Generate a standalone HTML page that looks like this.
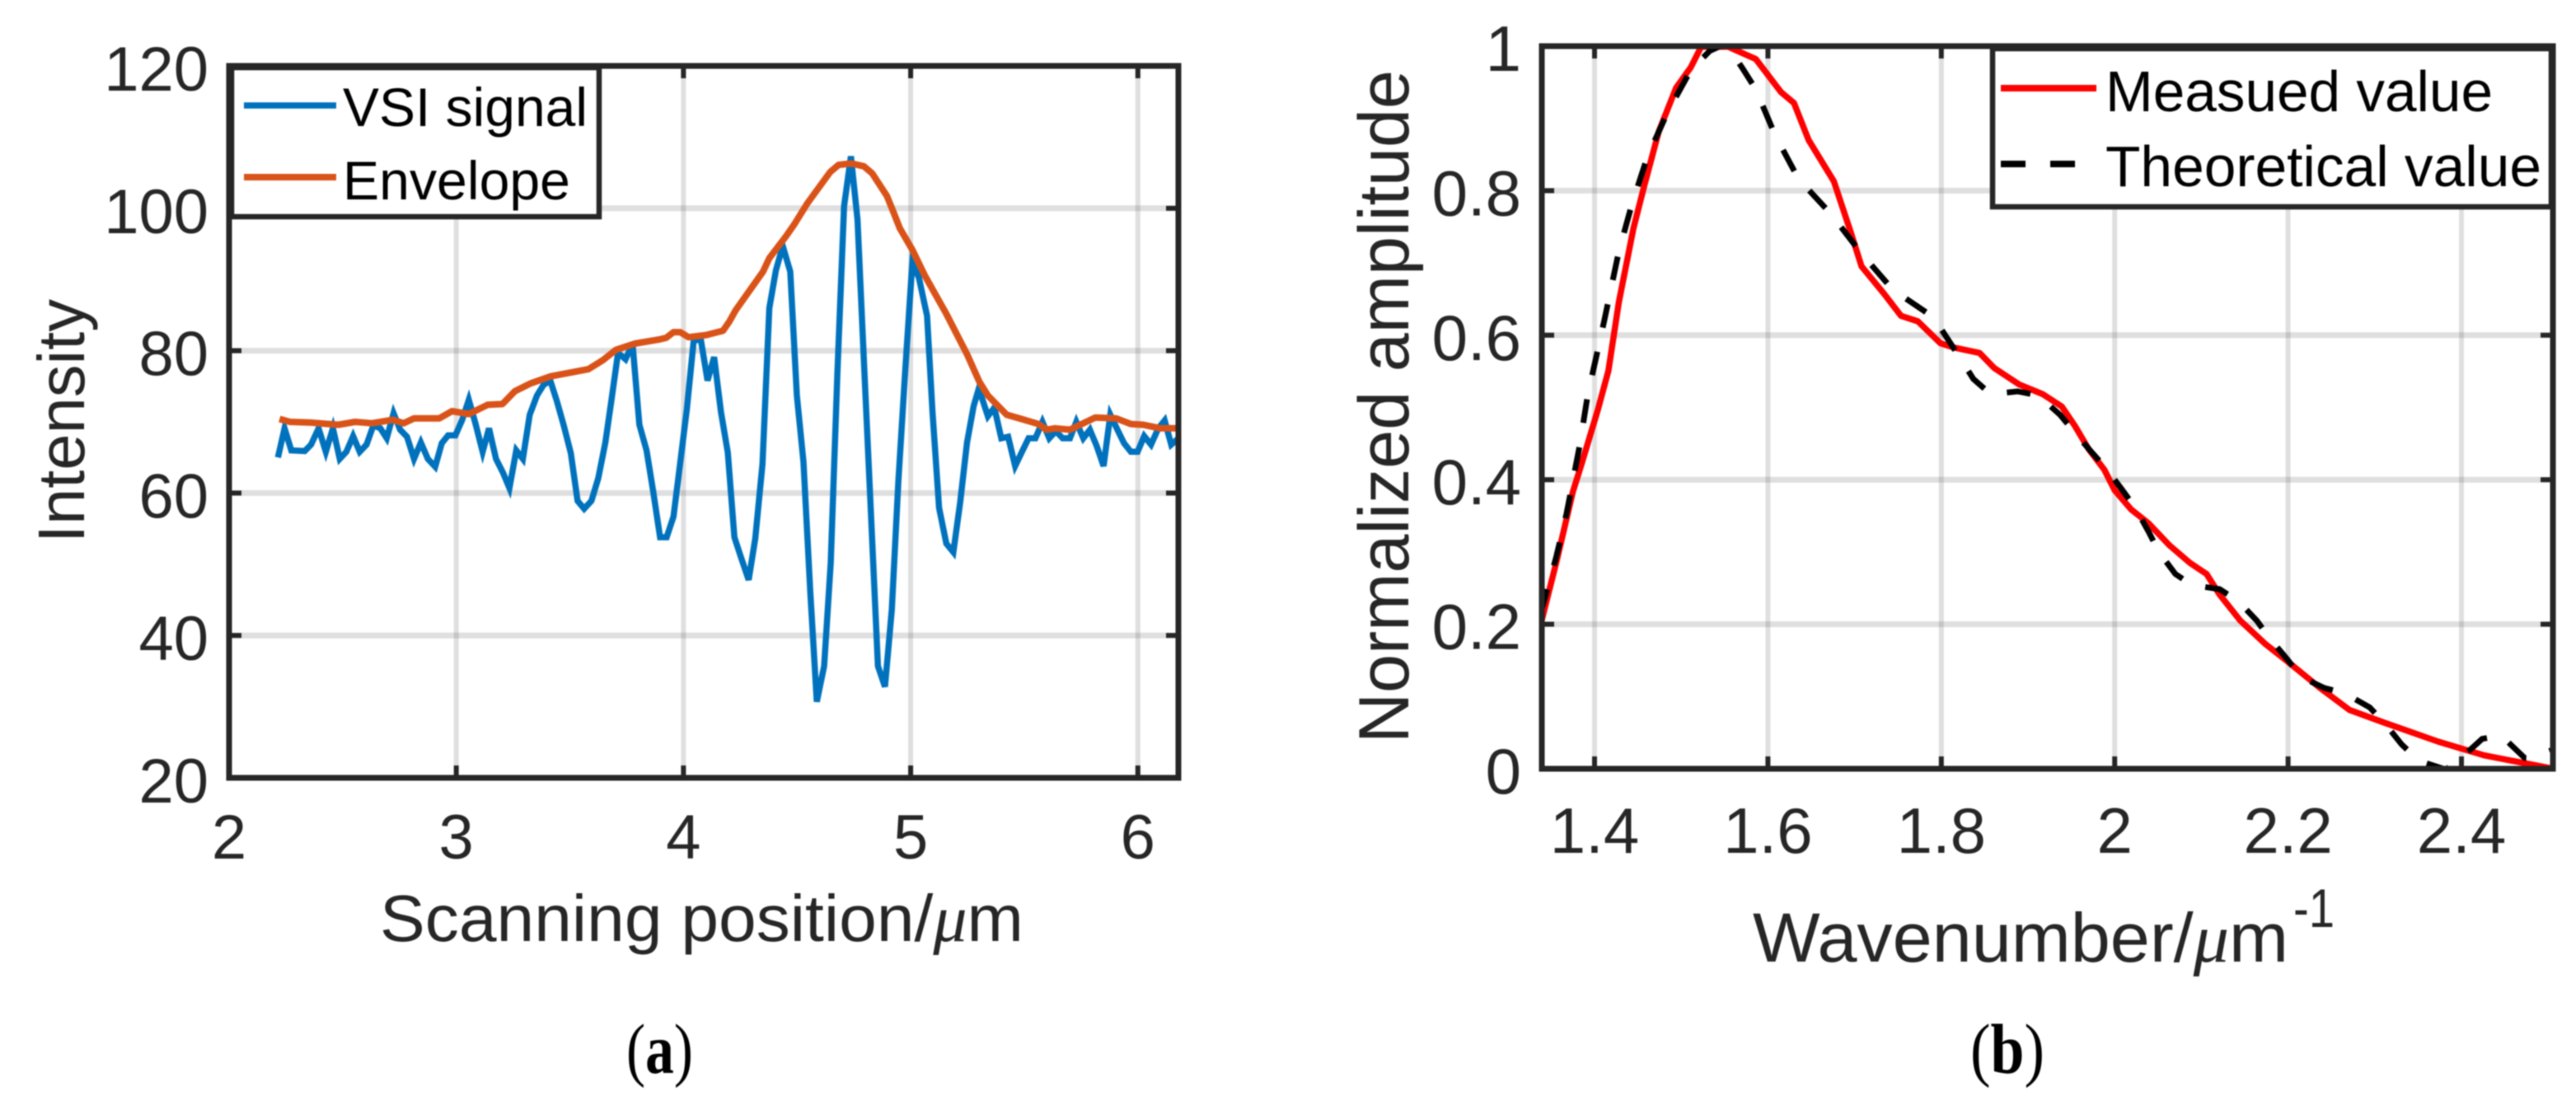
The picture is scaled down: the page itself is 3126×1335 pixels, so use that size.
<!DOCTYPE html>
<html lang="en">
<head>
<meta charset="utf-8">
<title>VSI signal and normalized amplitude charts</title>
<style>
html,body{margin:0;padding:0;background:#fff;width:3126px;height:1335px;overflow:hidden}
svg{display:block;filter:blur(0.7px)}
text{font-family:"Liberation Sans",sans-serif;fill:#262626}
.mu{font-family:"Liberation Serif",serif;font-style:italic}
.leg{fill:#000}
.cap{font-family:"Liberation Serif",serif;fill:#000}
</style>
</head>
<body>
<svg id="figure" xmlns="http://www.w3.org/2000/svg" width="3126" height="1335" viewBox="0 0 3126 1335">
  <defs>
    <clipPath id="clipA"><rect x="278" y="80" width="1152" height="864"/></clipPath>
    <clipPath id="clipB"><rect x="1871" y="56" width="1227" height="877"/></clipPath>
  </defs>
  <g id="panelA">
    <g id="gridA"></g>
    <g id="seriesA" clip-path="url(#clipA)"></g>
    <g id="axesA"></g>
    <text transform="translate(102,659) rotate(-90)" font-size="80" textLength="296" lengthAdjust="spacingAndGlyphs">Intensity</text>
    <text x="461" y="1142" font-size="80" textLength="781" lengthAdjust="spacingAndGlyphs">Scanning position/<tspan class="mu">μ</tspan>m</text>
    <g>
      <rect x="281" y="82" width="446" height="181" fill="#fff" stroke="#262626" stroke-width="6.5"/>
      <line x1="296" y1="128" x2="408" y2="128" stroke="#0072BD" stroke-width="7.5"/>
      <text class="leg" x="416" y="153" font-size="66" textLength="297" lengthAdjust="spacingAndGlyphs">VSI signal</text>
      <line x1="296" y1="215" x2="408" y2="215" stroke="#D95319" stroke-width="8"/>
      <text class="leg" x="416" y="242" font-size="66" textLength="276" lengthAdjust="spacingAndGlyphs">Envelope</text>
    </g>
  </g>
  <g id="panelB">
    <g id="gridB"></g>
    <g id="seriesB" clip-path="url(#clipB)"></g>
    <g id="axesB"></g>
    <text transform="translate(1709,902) rotate(-90)" font-size="86" textLength="817" lengthAdjust="spacingAndGlyphs">Normalized amplitude</text>
    <text x="2127" y="1167" font-size="84" textLength="650" lengthAdjust="spacingAndGlyphs">Wavenumber/<tspan class="mu">μ</tspan>m</text>
    <text x="2783" y="1125" font-size="66" textLength="50" lengthAdjust="spacingAndGlyphs">-1</text>
    <g>
      <rect x="2418" y="59" width="678" height="192" fill="#fff" stroke="#262626" stroke-width="6.5"/>
      <line x1="2428" y1="107" x2="2544" y2="107" stroke="#ff0000" stroke-width="8"/>
      <text class="leg" x="2555" y="135" font-size="70" textLength="470" lengthAdjust="spacingAndGlyphs">Measued value</text>
      <line x1="2428" y1="199" x2="2518" y2="199" stroke="#000" stroke-width="8" stroke-dasharray="30 30"/>
      <text class="leg" x="2555" y="226" font-size="70" textLength="529" lengthAdjust="spacingAndGlyphs">Theoretical value</text>
    </g>
  </g>
  <text class="cap" x="760" y="1302" font-size="86" textLength="81" lengthAdjust="spacingAndGlyphs">(<tspan font-weight="bold">a</tspan>)</text>
  <text class="cap" x="2391" y="1302" font-size="86" textLength="90" lengthAdjust="spacingAndGlyphs">(<tspan font-weight="bold">b</tspan>)</text>
</svg>
<script>
// Panel (a) data
const xTicksA = [2, 3, 4, 5, 6];
const yTicksA = [20, 40, 60, 80, 100, 120];
const signalX = [2.215,2.244,2.274,2.333,2.361,2.394,2.426,2.457,2.487,2.516,2.546,2.575,2.605,2.635,2.666,2.694,2.724,2.753,2.783,2.814,2.844,2.875,2.907,2.936,2.964,2.996,3.025,3.055,3.084,3.116,3.144,3.175,3.205,3.234,3.264,3.293,3.323,3.355,3.384,3.414,3.443,3.473,3.504,3.534,3.563,3.595,3.625,3.656,3.684,3.712,3.745,3.776,3.806,3.8375,3.867,3.897,3.926,3.956,3.985,4.015,4.045,4.076,4.106,4.135,4.165,4.195,4.224,4.254,4.287,4.316,4.348,4.378,4.407,4.437,4.470,4.499,4.528,4.558,4.587,4.619,4.648,4.678,4.707,4.737,4.766,4.796,4.824,4.856,4.887,4.917,4.946,4.976,5.007,5.036,5.072,5.096,5.125,5.157,5.188,5.218,5.248,5.277,5.30,5.340,5.368,5.399,5.429,5.460,5.490,5.519,5.549,5.580,5.610,5.639,5.669,5.701,5.729,5.760,5.789,5.819,5.849,5.879,5.910,5.939,5.969,5.999,6.028,6.058,6.090,6.118,6.147,6.179];
const signalY = [65.0,69.1,66.0,65.9,66.8,69.1,65.8,69.1,64.8,65.8,68.0,65.8,66.8,69.5,69.1,67.7,71.2,68.9,67.9,64.8,67.1,64.8,63.7,67.0,68.1,68.1,70.2,73.1,69.8,65.8,69.1,64.8,62.9,60.7,66.0,64.8,71.0,73.7,75.2,75.8,72.9,69.5,65.6,58.9,57.8,58.9,62.1,67.1,73.3,79.7,78.8,81.0,69.6,66.0,60.2,53.8,53.8,56.7,64.1,71.8,81.4,81.6,75.8,79.1,71.4,65.7,53.8,50.9,47.8,53.6,64.1,86.0,91.3,94.7,91.1,73.7,64.4,46.3,30.7,35.7,50.2,77.2,100.3,107.3,98.4,77.2,57.9,35.7,32.8,43.6,61.7,77.2,92.2,90.3,84.9,71.4,57.9,52.9,51.7,58.7,67.1,72.2,74.7,70.8,72.0,67.7,67.9,63.8,65.8,67.7,67.7,70.0,67.7,68.7,67.7,67.7,70.0,67.7,68.9,66.6,63.8,71.0,68.9,67.0,65.8,65.8,68.0,66.8,69.1,70.2,66.8,67.7];
const envelopeX = [2.222,2.268,2.361,2.481,2.555,2.629,2.721,2.768,2.814,2.925,2.981,3.055,3.138,3.203,3.258,3.327,3.416,3.581,3.647,3.702,3.786,3.897,3.924,3.956,3.985,4.022,4.100,4.174,4.202,4.230,4.350,4.378,4.452,4.489,4.545,4.646,4.683,4.739,4.794,4.831,4.896,4.924,4.952,5.007,5.063,5.155,5.248,5.303,5.340,5.423,5.488,5.562,5.599,5.636,5.701,5.812,5.904,5.969,6.024,6.098,6.179];
const envelopeY = [70.4,70.0,69.9,69.6,70.0,69.8,70.3,69.8,70.5,70.5,71.5,71.1,72.4,72.5,74.3,75.4,76.4,77.4,78.7,80.1,81.0,81.6,81.8,82.6,82.6,81.9,82.2,82.8,84.1,85.7,91.1,93.0,96.1,97.8,100.7,105.1,106.1,106.3,105.9,104.9,101.7,99.5,97.2,94.2,90.5,85.3,79.5,75.6,73.7,71.0,70.4,69.7,68.9,69.1,68.9,70.6,70.5,69.7,69.6,69.1,69.1];

// Panel (b) data
const xTicksB = [1.4, 1.6, 1.8, 2, 2.2, 2.4];
const yTicksB = [0, 0.2, 0.4, 0.6, 0.8, 1];
const measuredX = [1.339,1.3565,1.375,1.385,1.404,1.416,1.428,1.445,1.457,1.474,1.494,1.511,1.523,1.554,1.586,1.615,1.630,1.647,1.676,1.695,1.708,1.734,1.7535,1.773,1.799,1.814,1.844,1.861,1.890,1.917,1.939,1.954,1.970,1.988,2.000,2.019,2.039,2.063,2.087,2.106,2.121,2.145,2.174,2.200,2.237,2.271,2.310,2.373,2.426,2.504];
const measuredY = [0.205,0.2885,0.3835,0.4215,0.4975,0.5507,0.6458,0.7484,0.8054,0.8814,0.9422,0.9707,0.9992,0.9992,0.9821,0.9365,0.9213,0.87,0.813,0.7446,0.6952,0.6572,0.6268,0.6192,0.5888,0.583,0.5755,0.5546,0.5317,0.5184,0.5013,0.4747,0.4424,0.4139,0.3854,0.3588,0.3398,0.3094,0.2847,0.2695,0.241,0.2049,0.1725,0.1479,0.1117,0.0813,0.0642,0.0376,0.0186,0.0004];
const theoryX = [1.338,1.3556,1.3677,1.383,1.392,1.404,1.411,1.428,1.443,1.461,1.484,1.511,1.533,1.545,1.554,1.571,1.586,1.608,1.635,1.673,1.707,1.744,1.791,1.821,1.837,1.857,1.888,1.912,1.937,1.954,1.973,1.990,2.009,2.024,2.039,2.051,2.070,2.089,2.121,2.143,2.164,2.179,2.199,2.215,2.242,2.266,2.294,2.312,2.331,2.351,2.382,2.3995,2.424,2.446,2.473,2.483,2.495,2.505];
const theoryY = [0.2163,0.2923,0.3531,0.4481,0.5165,0.5811,0.6192,0.7161,0.7807,0.8472,0.908,0.9669,0.9935,1.0,0.9992,0.9688,0.9403,0.8776,0.8168,0.7674,0.7142,0.6629,0.6249,0.5697,0.5394,0.5184,0.5222,0.5165,0.4899,0.4652,0.4386,0.4158,0.3854,0.3607,0.3284,0.2999,0.2695,0.2543,0.2486,0.2315,0.2049,0.1802,0.1517,0.1269,0.1117,0.1041,0.0851,0.0623,0.0338,0.011,-0.001,0.0148,0.0414,0.046,0.0148,0.0141,0.0217,0.026];

const NS = 'http://www.w3.org/2000/svg';
const GRID = 'rgba(38,38,38,0.15)';
const AXIS = '#262626';

function linear(d0, d1, r0, r1) {
  return function (v) { return r0 + (v - d0) * (r1 - r0) / (d1 - d0); };
}
function make(tag, parent, attrs) {
  const el = document.createElementNS(NS, tag);
  for (const k in attrs) el.setAttribute(k, attrs[k]);
  parent.appendChild(el);
  return el;
}
function pathOf(xs, ys, sx, sy) {
  return xs.map(function (x, i) {
    return (i ? 'L' : 'M') + sx(x).toFixed(1) + ' ' + sy(ys[i]).toFixed(1);
  }).join('');
}
function drawAxes(o) {
  const grid = document.getElementById(o.gridId);
  const axes = document.getElementById(o.axesId);
  o.xTicks.forEach(function (t) {
    const x = o.sx(t);
    const g = make('line', grid, {x1: x, x2: x, y1: o.top, y2: o.bottom, stroke: GRID, 'stroke-width': 6});
    
    
    const a = make('line', axes, {x1: x, x2: x, y1: o.bottom, y2: o.bottom - 15, stroke: AXIS, 'stroke-width': 6});
    
    
    const b = make('line', axes, {x1: x, x2: x, y1: o.top, y2: o.top + 15, stroke: AXIS, 'stroke-width': 6});
    
    
    const lab = make('text', axes, {x: x, y: o.xLabelY, 'text-anchor': 'middle', 'font-size': o.tickFont});
    lab.textContent = String(t);
    
    
  });
  o.yTicks.forEach(function (t) {
    const y = o.sy(t);
    const g = make('line', grid, {x1: o.left, x2: o.right, y1: y, y2: y, stroke: GRID, 'stroke-width': 7});
    
    
    const a = make('line', axes, {x1: o.left, x2: o.left + 15, y1: y, y2: y, stroke: AXIS, 'stroke-width': 6});
    
    
    const b = make('line', axes, {x1: o.right, x2: o.right - 15, y1: y, y2: y, stroke: AXIS, 'stroke-width': 6});
    
    
    const lab = make('text', axes, {x: o.yLabelX, y: y + 30, 'text-anchor': 'end', 'font-size': o.tickFont});
    lab.textContent = String(t);
    
    
  });
  const box = make('rect', axes, {x: o.left, y: o.top, width: o.right - o.left, height: o.bottom - o.top, fill: 'none', stroke: AXIS, 'stroke-width': 7});
  
  
}

// Panel (a)
const sxA = linear(2, 6, 278, 1380.8);
const syA = linear(20, 120, 944, 80);
drawAxes({gridId: 'gridA', axesId: 'axesA', sx: sxA, sy: syA, xTicks: xTicksA, yTicks: yTicksA,
  left: 278, right: 1430, top: 80, bottom: 944, xLabelY: 1042, yLabelX: 253, tickFont: 76});
const seriesA = document.getElementById('seriesA');
const signalLine = make('path', seriesA, {d: pathOf(signalX, signalY, sxA, syA), fill: 'none', stroke: '#0072BD', 'stroke-width': 7.5, 'stroke-linejoin': 'miter'});


const envelopeLine = make('path', seriesA, {d: pathOf(envelopeX, envelopeY, sxA, syA), fill: 'none', stroke: '#D95319', 'stroke-width': 8, 'stroke-linejoin': 'round'});



// Panel (b)
const sxB = linear(1.4, 2.4, 1935, 2987);
const syB = linear(0, 1, 933, 56);
drawAxes({gridId: 'gridB', axesId: 'axesB', sx: sxB, sy: syB, xTicks: xTicksB, yTicks: yTicksB,
  left: 1871, right: 3098, top: 56, bottom: 933, xLabelY: 1035, yLabelX: 1846, tickFont: 78});
const seriesB = document.getElementById('seriesB');
const measuredLine = make('path', seriesB, {d: pathOf(measuredX, measuredY, sxB, syB), fill: 'none', stroke: '#ff0000', 'stroke-width': 7.5, 'stroke-linejoin': 'round'});


const theoryLine = make('path', seriesB, {d: pathOf(theoryX, theoryY, sxB, syB), fill: 'none', stroke: '#000', 'stroke-width': 7, 'stroke-dasharray': '29 30'});


</script>
</body>
</html>
